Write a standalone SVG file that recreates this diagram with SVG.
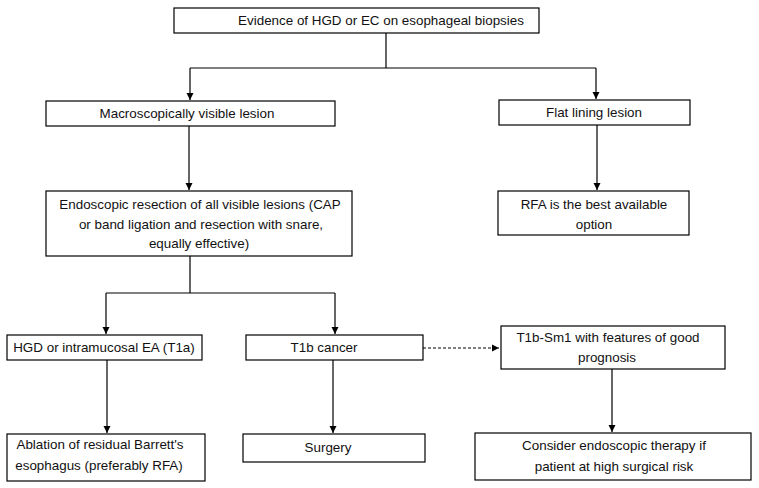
<svg xmlns="http://www.w3.org/2000/svg" width="759" height="488" viewBox="0 0 759 488">
<defs>
<marker id="ah" markerWidth="8" markerHeight="8" refX="7" refY="4" orient="auto" markerUnits="userSpaceOnUse">
<path d="M0,0.5 L7,4 L0,7.5 Z" fill="#000"/>
</marker>
<style>
.box{fill:#fff;stroke:#000;stroke-width:1.2}
.t{font-family:"Liberation Sans",Arial,sans-serif;font-size:13.4px;fill:#111;text-anchor:middle}
.c{fill:none;stroke:#000;stroke-width:1.2}
.d{stroke-dasharray:3,2}
</style>
</defs>
<rect width="759" height="488" fill="#fff"/>
<g id="connectors">
<path class="c" d="M386,33 V68 M190,68 H596"/>
<path class="c" d="M190,68 V100" marker-end="url(#ah)"/>
<path class="c" d="M596,68 V99" marker-end="url(#ah)"/>
<path class="c" d="M189,126 V190" marker-end="url(#ah)"/>
<path class="c" d="M597,125 V190" marker-end="url(#ah)"/>
<path class="c" d="M190,256 V293 M106,293 H335"/>
<path class="c" d="M106,293 V334" marker-end="url(#ah)"/>
<path class="c" d="M335,293 V334" marker-end="url(#ah)"/>
<path class="c d" d="M423,348 H499" marker-end="url(#ah)"/>
<path class="c" d="M107,360 V433" marker-end="url(#ah)"/>
<path class="c" d="M333,360 V433" marker-end="url(#ah)"/>
<path class="c" d="M612,369 V432" marker-end="url(#ah)"/>
</g>
<g id="n1"><rect class="box" x="174" y="8" width="365" height="25"/><text class="t" x="381" y="25">Evidence of HGD or EC on esophageal biopsies</text></g>
<g id="n2"><rect class="box" x="46" y="101" width="289" height="25"/><text class="t" x="187" y="118">Macroscopically visible lesion</text></g>
<g id="n3"><rect class="box" x="499" y="100" width="191" height="25"/><text class="t" x="594" y="117">Flat lining lesion</text></g>
<g id="n4"><rect class="box" x="46" y="191" width="306" height="65"/><text class="t" x="200" y="209">Endoscopic resection of all visible lesions (CAP</text><text class="t" x="201" y="229">or band ligation and resection with snare,</text><text class="t" x="199" y="248">equally effective)</text></g>
<g id="n5"><rect class="box" x="498" y="191" width="191" height="44"/><text class="t" x="594" y="209">RFA is the best available</text><text class="t" x="594" y="229">option</text></g>
<g id="n6"><rect class="box" x="7" y="335" width="195" height="25"/><text class="t" x="104" y="352">HGD or intramucosal EA (T1a)</text></g>
<g id="n7"><rect class="box" x="246" y="335" width="177" height="25"/><text class="t" x="324" y="352">T1b cancer</text></g>
<g id="n8"><rect class="box" x="501" y="326" width="224" height="43"/><text class="t" x="608" y="342">T1b-Sm1 with features of good</text><text class="t" x="607" y="362">prognosis</text></g>
<g id="n9"><rect class="box" x="7" y="434" width="198" height="47"/><text class="t" x="100" y="449">Ablation of residual Barrett's</text><text class="t" x="99" y="470">esophagus (preferably RFA)</text></g>
<g id="n10"><rect class="box" x="243" y="434" width="182" height="28"/><text class="t" x="328" y="452">Surgery</text></g>
<g id="n11"><rect class="box" x="475" y="433" width="276" height="47"/><text class="t" x="614" y="450">Consider endoscopic therapy if</text><text class="t" x="614" y="471">patient at high surgical risk</text></g>
</svg>
